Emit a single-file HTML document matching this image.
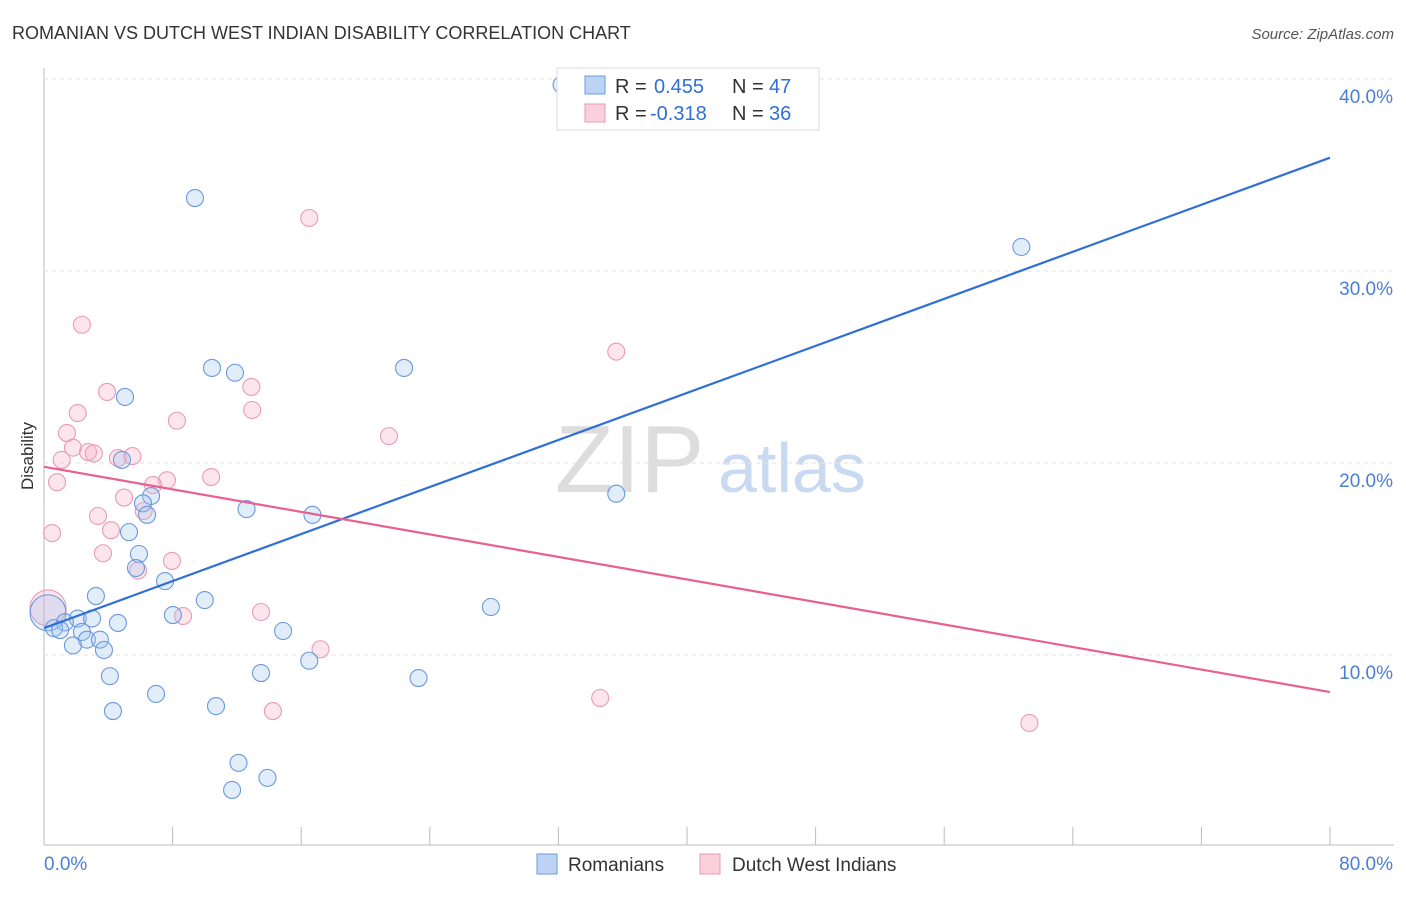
<!DOCTYPE html>
<html><head><meta charset="utf-8"><style>
body{margin:0;background:#fff;font-family:"Liberation Sans",sans-serif}
svg text{font-family:"Liberation Sans",sans-serif}
</style></head><body>
<svg id="c" width="1406" height="892" xmlns="http://www.w3.org/2000/svg">
<text x="12" y="39" font-size="18" fill="#333">ROMANIAN VS DUTCH WEST INDIAN DISABILITY CORRELATION CHART</text>
<text x="1394" y="39" font-size="15" fill="#555" text-anchor="end" font-style="italic">Source: ZipAtlas.com</text>
<text x="33" y="456" font-size="17" fill="#333" text-anchor="middle" transform="rotate(-90 33 456)">Disability</text>
<text x="555" y="492" font-size="96" fill="#ddd" font-family="Liberation Serif">ZIP</text>
<text x="718" y="492" font-size="70" fill="#c9d9f2">atlas</text>
<g id="grid"></g><g id="pts"></g><g id="lines"></g>
<g>
<rect x="557" y="68" width="262" height="62" fill="#fff" stroke="#ddd"/>
<rect x="585" y="76" width="20" height="18" fill="#bcd3f5" stroke="#6b9be0"/>
<rect x="585" y="104" width="20" height="18" fill="#fbd0dd" stroke="#e897b2"/>
<text x="615" y="93" font-size="20" fill="#333">R =</text>
<text x="654" y="93" font-size="20" fill="#2f6fd6">0.455</text>
<text x="732" y="93" font-size="20" fill="#333">N =</text>
<text x="769" y="93" font-size="20" fill="#2f6fd6">47</text>
<text x="615" y="120" font-size="20" fill="#333">R =</text>
<text x="650" y="120" font-size="20" fill="#2f6fd6">-0.318</text>
<text x="732" y="120" font-size="20" fill="#333">N =</text>
<text x="769" y="120" font-size="20" fill="#2f6fd6">36</text>
</g>
<g>
<rect x="537" y="854" width="20" height="20" fill="#bcd3f5" stroke="#6b9be0"/>
<text x="568" y="871" font-size="19" fill="#333">Romanians</text>
<rect x="700" y="854" width="20" height="20" fill="#fbd0dd" stroke="#e897b2"/>
<text x="732" y="871" font-size="19" fill="#333">Dutch West Indians</text>
</g>
</svg>
<script>
const yTicks=[10,20,30,40];
const yTickLabels=["10.0%","20.0%","30.0%","40.0%"];
const blueX=[32.2,9.39,60.8,10.45,11.88,22.4,5.04,4.85,35.6,6.66,6.16,6.41,12.6,16.7,5.29,5.91,5.72,7.53,3.23,10.0,27.8,8.02,0.25,2.1,2.99,1.3,0.62,1.0,2.36,4.6,2.67,3.48,1.8,3.73,14.87,16.5,4.1,13.5,23.3,6.97,4.29,10.7,12.1,13.9,11.7];
const blueY=[39.7,33.8,31.25,24.95,24.7,24.95,23.44,20.16,18.4,18.28,17.9,17.3,17.6,17.3,16.4,15.26,14.53,13.85,13.07,12.86,12.5,12.08,12.2,11.9,11.9,11.7,11.4,11.3,11.2,11.67,10.8,10.8,10.5,10.26,11.25,9.7,8.9,9.06,8.8,7.97,7.08,7.34,4.38,3.6,2.97];
const pinkX=[16.5,2.36,35.6,3.92,12.9,12.95,2.1,8.27,1.43,21.46,1.8,2.74,3.1,1.1,4.6,5.5,0.81,7.65,10.4,6.78,4.98,6.2,3.36,4.17,0.5,3.67,7.96,5.85,8.65,13.5,0.25,17.2,14.24,34.6,61.3];
const pinkY=[32.76,27.2,25.8,23.7,23.96,22.76,22.6,22.2,21.56,21.4,20.8,20.57,20.5,20.16,20.26,20.36,19.0,19.1,19.27,18.85,18.2,17.5,17.24,16.5,16.35,15.3,14.9,14.4,12.03,12.24,12.45,10.3,7.08,7.76,6.46];
const blueTrend=[11.4,35.9];
const pinkTrend=[19.8,8.07];
const xMax=80;
const sx=v=>44+v/xMax*1286, sy=v=>847-v*19.2;
const NS="http://www.w3.org/2000/svg";
function mk(t,a,p){const e=document.createElementNS(NS,t);for(const k in a)e.setAttribute(k,a[k]);p.appendChild(e);return e;}
const g=document.getElementById('grid');
mk('line',{x1:44,y1:68,x2:44,y2:845,stroke:'#bbb'},g);
mk('line',{x1:44,y1:845,x2:1394,y2:845,stroke:'#bbb'},g);
yTicks.forEach((t,i)=>{
 const l=mk('line',{x1:44,y1:sy(t),x2:1394,y2:sy(t),stroke:'#e2e2e2','stroke-dasharray':'4 4'},g);
 
 
 const tx=mk('text',{x:1393,y:sy(t)+24,'font-size':19,fill:'#4a7fd4','text-anchor':'end'},g);
 tx.textContent=yTickLabels[i];
 
 
});
for(let i=1;i<=10;i++){const l=mk('line',{x1:sx(i*8),y1:827,x2:sx(i*8),y2:845,stroke:'#bbb'},g);
 
 }
let t0=mk('text',{x:44,y:870,'font-size':19,fill:'#4a7fd4'},g);t0.textContent='0.0%';


let t1=mk('text',{x:1393,y:870,'font-size':19,fill:'#4a7fd4','text-anchor':'end'},g);t1.textContent='80.0%';


const P=document.getElementById('pts');
pinkX.forEach((x,i)=>{const c=mk('circle',{cx:sx(x),cy:sy(pinkY[i]),r:(i==30?18:8.5),fill:'rgba(246,170,195,0.3)',stroke:'#eb9ab5','stroke-width':1.1},P);
 
 });
blueX.forEach((x,i)=>{const c=mk('circle',{cx:sx(x),cy:sy(blueY[i]),r:(i==22?18:8.5),fill:'rgba(160,195,240,0.3)',stroke:'#6a98de','stroke-width':1.1},P);
 
 });
const L=document.getElementById('lines');
let b=mk('line',{x1:sx(0),y1:sy(blueTrend[0]),x2:sx(xMax),y2:sy(blueTrend[1]),stroke:'#2f6fd6','stroke-width':2.2},L);


let p=mk('line',{x1:sx(0),y1:sy(pinkTrend[0]),x2:sx(xMax),y2:sy(pinkTrend[1]),stroke:'#e8608f','stroke-width':2.2},L);


</script>
</body></html>
